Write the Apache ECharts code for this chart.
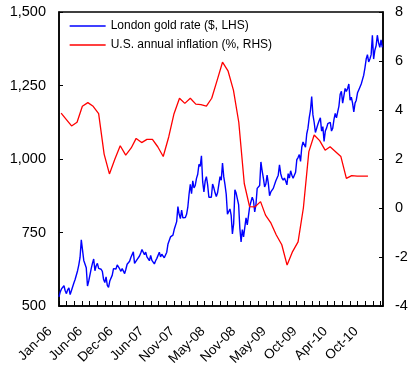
<!DOCTYPE html>
<html>
<head>
<meta charset="utf-8">
<script src="https://cdn.jsdelivr.net/npm/echarts@6/dist/echarts.min.js"></script>
<style>
html,body{margin:0;padding:0;background:#fff;}
#chart{width:417px;height:373px;}
</style>
</head>
<body>
<div id="chart"></div>
<script>
// X-axis tick labels (one every 4 ticks)
const tickLabels = ['Jan-06','Jun-06','Dec-06','Jun-07','Nov-07','May-08','Nov-08','May-09','Oct-09','Apr-10','Oct-10'];

// London gold rate ($), weekly readings starting 3 Jan 2006
const goldStartDate = [2006, 0, 3];
const goldValues = [
  // 2006
  531,548,558,561,569,552,542,555,562,539,552,556,578,590,596,620,640,665,725,690,
  655,650,630,568,585,580,627,645,660,620,637,645,628,623,625,618,590,580,599,570,
  563,585,590,605,627,622,626,640,643,626,618,627,
  // 2007
  630,610,625,642,648,652,665,670,684,645,650,658,664,670,680,692,683,675,683,667,
  662,654,672,655,654,643,654,662,665,683,667,676,670,664,667,683,711,717,735,741,
  741,760,763,787,838,812,797,826,800,803,801,812,
  // 2008
  836,880,914,882,926,902,910,934,948,982,975,1011,922,888,925,940,912,870,875,870,
  915,902,885,872,885,888,940,928,986,940,913,880,812,812,830,808,745,780,895,884,
  878,845,765,718,760,735,738,800,776,770,840,845,870,
  // 2009
  858,820,845,900,905,910,990,960,935,905,915,945,917,875,888,885,900,895,925,920,
  945,980,950,935,928,935,925,912,950,935,960,945,935,945,955,998,1005,1015,992,1040,
  1058,1062,1040,1085,1105,1140,1165,1212,1150,1125,1090,1095,
  // 2010
  1118,1130,1140,1095,1110,1060,1095,1105,1120,1120,1125,1095,1105,1135,1155,1140,1160,1180,1220,1230,
  1190,1215,1240,1230,1240,1255,1200,1210,1190,1160,1190,1200,1225,1235,1245,1255,1270,1285,1310,1340,
  1355,1330,1340,1355,1421,1340,1370,1385,1421,1395,1380,1405,
  // 2011
  1380
];

// U.S. annual inflation (%), monthly from Jan 2006
const inflationStartMonth = [2006, 0];
const inflationValues = [
  3.87,3.6,3.35,3.5,4.15,4.3,4.15,3.85,2.2,1.39,2.0,2.54,
  2.16,2.45,2.84,2.67,2.8,2.8,2.5,2.1,2.9,3.85,4.48,4.27,
  4.48,4.24,4.22,4.16,4.48,5.22,5.95,5.6,4.8,3.5,1.0,0.06,
  0.05,0.26,-0.29,-0.62,-1.1,-1.5,-2.33,-1.78,-1.38,0.0,2.3,2.98,
  2.75,2.36,2.5,2.3,2.1,1.21,1.32,1.3,1.3,1.3
];

const seriesNames = ['London gold rate ($, LHS)', 'U.S. annual inflation (%, RHS)'];

const DAY = 86400000;
const goldT0 = Date.UTC(goldStartDate[0], goldStartDate[1], goldStartDate[2]);
const goldData = goldValues.map((v, i) => [goldT0 + i * 7 * DAY, v]);
const inflData = inflationValues.map((v, i) => [Date.UTC(inflationStartMonth[0], inflationStartMonth[1] + i, 15), v]);

const FONT = 'Liberation Sans, Arial, sans-serif';
const chart = echarts.init(document.getElementById('chart'), null, {renderer: 'canvas'});
chart.setOption({
  animation: false,
  backgroundColor: '#fff',
  grid: {left: 59, right: 34, top: 12, bottom: 67, show: true, borderColor: '#000', borderWidth: 1.5, backgroundColor: 'transparent'},
  legend: {
    data: seriesNames, orient: 'vertical', left: 69, top: 20, padding: 0,
    itemWidth: 36, itemHeight: 14, itemGap: 7,
    itemStyle: {opacity: 0, borderWidth: 0},
    lineStyle: {width: 1.3},
    textStyle: {fontSize: 12, color: '#000', fontFamily: FONT}
  },
  xAxis: [
    {type: 'time', min: goldT0, max: Date.UTC(2011, 0, 8), show: false},
    {
      type: 'value', min: 0, max: 42.3, interval: 1, position: 'bottom',
      axisLine: {show: true, lineStyle: {color: '#000', width: 1.5}},
      axisTick: {show: true, inside: true, length: 5, lineStyle: {color: '#000', width: 1}},
      splitLine: {show: false},
      axisLabel: {
        rotate: 45, margin: 14, padding: [0, 13, 0, 0], color: '#000', fontSize: 13.5, fontFamily: FONT,
        showMaxLabel: false,
        formatter: function (v) { return (v % 4 === 0 && v / 4 < tickLabels.length) ? tickLabels[v / 4] : ''; }
      }
    }
  ],
  yAxis: [
    {
      type: 'value', min: 500, max: 1500, interval: 250, position: 'left',
      axisLine: {show: true, lineStyle: {color: '#000', width: 1.5}},
      axisTick: {show: true, inside: true, length: 4, lineStyle: {color: '#000', width: 1}},
      splitLine: {show: false},
      axisLabel: {margin: 13, color: '#000', fontSize: 14.5, fontFamily: FONT,
        formatter: function (v) { return v.toLocaleString('en-US'); }}
    },
    {
      type: 'value', min: -4, max: 8, interval: 2, position: 'right',
      axisLine: {show: true, lineStyle: {color: '#000', width: 1.5}},
      axisTick: {show: true, inside: true, length: 4, lineStyle: {color: '#000', width: 1}},
      splitLine: {show: false},
      axisLabel: {margin: 12, color: '#000', fontSize: 14.5, fontFamily: FONT}
    }
  ],
  series: [
    {
      name: seriesNames[0], type: 'line', xAxisIndex: 0, yAxisIndex: 0, data: goldData,
      symbol: 'none', showSymbol: false, color: '#0000FF',
      lineStyle: {color: '#0000FF', width: 1.4}
    },
    {
      name: seriesNames[1], type: 'line', xAxisIndex: 0, yAxisIndex: 1, data: inflData,
      symbol: 'none', showSymbol: false, color: '#FF0000',
      lineStyle: {color: '#FF0000', width: 1.3}
    }
  ]
});
</script>
</body>
</html>
